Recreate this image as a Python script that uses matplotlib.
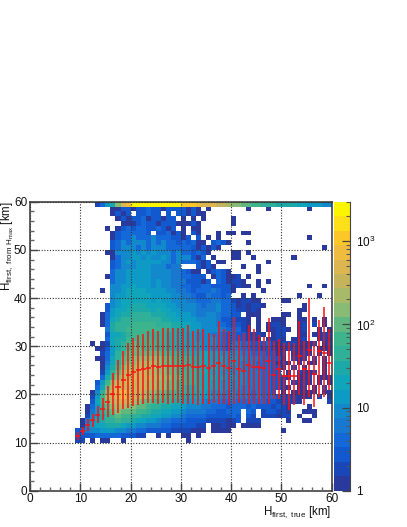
import numpy as np
import matplotlib
matplotlib.use("Agg")
import matplotlib.pyplot as plt
from matplotlib.colors import ListedColormap, LogNorm
from matplotlib.cm import ScalarMappable
from matplotlib.ticker import FixedLocator

plt.rcParams['font.family'] = ['Liberation Sans', 'DejaVu Sans']
plt.rcParams['mathtext.fontset'] = 'custom'
plt.rcParams['mathtext.rm'] = 'Liberation Sans'
plt.rcParams['mathtext.default'] = 'rm'

# Colour-level codes, one row per 1 km bin of the y axis
# (top row first); groups cover x = 5-9, 10-14, ..., 55-59 km.
ROWS = [
"..... ...24 79dgh kkkkk kkkkk iiihg ggffe ddccb baaa9 99988 77766",
"..... ..... .1133 13343 31333 3131. 1.... ...1. ..1.. ..... 1....",
"..... ..... .1313 .3343 3.3.3 31311 ..... ..... ..... ..... .....",
"..... ..... ..131 33413 3133. 1.1.1 ..... 1.... ..... ..... .....",
"..... ..... ...11 13433 13331 1131. ..... 1.... ..... ..... .....",
"..... ..... 1.134 34433 4313. 1.11. ..... ..... ..... ..... .....",
"..... ..... .1344 4443. 33413 1.31. ..1.1 1.11. ..... ..... .....",
"..... ..... .1344 64446 44433 13.3. 1.1.. ..... ..... ..... 1....",
"..... ..... .3464 66646 46443 43411 .3431 ...1. ..... ..... .....",
"..... ..... .3466 64646 66444 44313 131.. ..... ..... ..... ...1.",
"..... ..... 11666 76767 66646 44343 1.... 11.1. ..... ..... .....",
"..... ..... .1466 77676 67646 66314 .1... 11..1 ..... ..1.. .....",
"..... ..... .3467 67777 76646 44431 3.11. ..... ..1.. ..... .....",
"..... ..... .3466 67776 66455 ...31 31... ..1.. 1.... ..... .....",
"..... ..... .4667 77776 66655 4311. 13431 ..... 1.... ..... .....",
"..... ..... 14667 77776 66655 44333 .1431 12.1. ..... ..... .....",
"..... ..... .4667 77776 76655 53331 3.431 221.. 1.1.. ..... .....",
"..... ..... .6677 87776 76655 44334 43333 1211. 1.... ..... 1..1.",
"..... ....1 .6678 88877 77665 54344 45433 1.... .1... ..... .....",
"..... ..... .6778 88887 77766 55433 54434 ..1.1 ..... ...1. ..1..",
"..... ..... .6788 88887 87766 65544 45544 21221 1.... 11... .....",
"..... ..... 36788 99988 88776 66654 55644 31212 21... ....1 .....",
"..... ..... 37889 99998 98877 66655 55644 32212 1.... ...11 .....",
"..... ....1 47899 aaaa9 99887 77655 66544 33.11 1.... 11.1. .....",
"..... ....1 489aa aaaaa a9988 77766 66533 3221. 1..11 1..11 .1.1.",
"..... ....1 49aaa bbbbb aaa99 88776 66543 3321. 1.122 1..12 .2.1.",
"..... ..... 59aab bbbbb baa99 88776 66654 4421. 1.112 21.12 ..1.1",
"..... ..... 3889a bbbaa aa998 87766 65543 43322 21.12 2..11 .1122",
"..... ..... 4899b bbbba aa998 87766 66543 43322 1.212 1.112 ..121",
"..... ..1.1 289ab cbbbb aa998 87776 66543 55443 33421 22211 12.12",
"..... ...11 379ab ccbbb aa998 88776 65543 55443 32321 12211 2.111",
"..... ....2 47abc ccccc cbbaa 99888 87766 66554 44331 2.112 1.1.1",
"..... ...11 48acc ddddd dccbb aa998 87776 76655 54433 1.212 .2.1.",
"..... ....1 58acd deeee dccbb aa998 87776 76555 44431 21.1. 11.1.",
"..... ....1 69bde efeee ddccb aaa98 88776 66555 44433 1.2.1 ...1.",
"..... ....2 7acef fffee ddccb baa99 87766 66655 54433 .1.21 12.1.",
"..... ....4 9bdff gfffe eddcc baa98 88776 76655 54433 21.11 2.112",
"..... ...37 bdffg fffee ddccb baa98 87766 66655 54433 2.212 1.1.1",
"..... ...48 cegff fffee ddccb a9998 87766 66555 54433 21.12 .1.2.",
"..... ..16a dfghg ffedd ccbba a9988 76665 65554 5443. 1.111 11.11",
"..... ..27b efghf feedc cbbaa 98887 76655 65554 54443 22211 1.2.1",
"..... ..38b defff edccb baa99 87776 55544 54444 44332 2221. ....2",
"..... .147a cdeed dccba a9988 76665 54443 44434 33323 21... 1....",
"..... .157a bcdcc cbba9 98877 65555 44334 44.43 .2332 21..1 11...",
"..... .2679 abcbb aa998 87766 54444 33333 43.32 .2221 22.1. .1...",
"..... 15789 aabaa 98877 65544 43333 22221 23.22 2.... .1..1 1....",
"..... 16788 99987 76655 54433 33322 .1121 1.111 1.... ..... .....",
"....3 45667 77665 54433 33322 22111 .1111 ..... ..... 1.... .....",
"....3 33344 44433 322.. 1.1.. 11.1. ..... ..... ..... ..... .....",
"....2 2.1.1 1..1. ..... ..... .1... ..... ..... ..... ..... .....",
]
CODES = "123456789abcdefghijk"
LEVEL_COUNTS = [1.2, 1.8, 2.7, 4.1, 6.1, 9.1, 13.5, 20, 30, 45,
                67, 100, 149, 222, 330, 497, 738, 1100, 1640, 2450]

PROFILE_X = [9.5 + i for i in range(51)]
PROFILE_MEAN = [11.35, 12.45, 13.6, 14.6, 15.8, 16.9, 18.5, 20.05, 21.6, 22.9,
                24, 24.6, 25, 25.3, 25.5, 25.8, 25.65, 25.9, 25.8, 25.9,
                25.85, 25.85, 26.2, 25.65, 25.6, 25.8, 25.4, 25.8, 26.6, 25.85,
                25.4, 27, 25.3, 24.9, 26.1, 25.7, 25.6, 25.4, 27, 24,
                25.2, 23.8, 23.8, 23.8, 28, 25.2, 29.3, 24.2, 29, 28.5, 26.5]
PROFILE_TOP = [12.2, 13.3, 14.8, 16, 17.5, 19.2, 21.7, 24.4, 27.1, 28.9,
               30.7, 31.7, 32.3, 32.6, 33.1, 33.6, 33.2, 33.8, 33.7, 33.8,
               33.8, 33.7, 34.3, 33.2, 33.5, 33.5, 32.8, 32.6, 35.2, 33.6,
               33.1, 36, 32.4, 32.8, 34.3, 33.5, 32.4, 32, 35.9, 31,
               31.4, 30.7, 30.9, 30.7, 35.2, 31, 40.1, 31, 35.5, 38.2, 33.5]
PROFILE_BOT = [10.5, 11.6, 12.4, 13.2, 14, 14.7, 15.3, 15.7, 16.2, 16.9,
               17.2, 17.6, 17.8, 18.1, 18.3, 18.3, 18.1, 18.3, 18.1, 18.3,
               18.3, 18.1, 18.1, 18, 17.8, 18, 18.1, 18.2, 18, 18,
               17.8, 18.1, 18.2, 18.1, 18.1, 18.1, 18.1, 18.1, 18.1, 19,
               19, 17.8, 16.7, 17.8, 19.8, 17.8, 19.5, 17.4, 19.5, 19.5, 21]

X_TICKS = [0, 10, 20, 30, 40, 50, 60]
Y_TICKS = [0, 10, 20, 30, 40, 50, 60]
CB_TICKS = [1, 10, 100, 1000]
CB_LABELS = ["1", "10", "$10^{2}$", "$10^{3}$"]
PALETTE = ["#2a3a9c", "#1a47b8", "#1259d0", "#1468d8", "#1878d0", "#1289cc", "#0d9ac4",
           "#10a5ba", "#1ca9a8", "#30b098", "#3eb48c", "#60b880", "#88bb74", "#a8ba68",
           "#c6b45c", "#dcb650", "#f0bc40", "#fcc828", "#fee018", "#fcf500"]

W, H = 407, 527
fig = plt.figure(figsize=(W / 100, H / 100), dpi=100)
ax = fig.add_axes([30 / W, (H - 490.7) / H, 301.7 / W, 289 / H])

cmap = ListedColormap(PALETTE)
norm = LogNorm(1, 3000)

z = np.full((60, 60), np.nan)
for i, row in enumerate(ROWS):
    s = row.replace(" ", "")
    assert len(s) == 55, (i, len(s))
    for j, c in enumerate(s):
        if c != ".":
            z[59 - i, j + 5] = LEVEL_COUNTS[CODES.index(c)]

edges = np.arange(61)
ax.pcolormesh(edges, edges, z, cmap=cmap, norm=norm, antialiased=False, zorder=1)

mean = np.array(PROFILE_MEAN)
ax.errorbar(PROFILE_X, mean, xerr=0.5,
            yerr=[mean - np.array(PROFILE_BOT), np.array(PROFILE_TOP) - mean],
            fmt="none", ecolor="#ff1010", elinewidth=1.1, capsize=0, zorder=3)

ax.set_xlim(0, 60)
ax.set_ylim(0, 60)
ax.set_xticks(X_TICKS)
ax.set_yticks(Y_TICKS)
ax.xaxis.set_minor_locator(FixedLocator(list(range(0, 61, 2))))
ax.yaxis.set_minor_locator(FixedLocator(list(range(0, 61, 2))))
ax.grid(True, which="major", color="#333333", linestyle=(0, (1, 1.5)), linewidth=0.8, zorder=4)
ax.set_axisbelow(False)
ax.tick_params(which="major", direction="in", length=6, width=1.0, color="#444444",
               labelsize=8.5, pad=2, labelcolor="#111111")
ax.tick_params(which="minor", direction="in", length=3, width=1.0, color="#666666")
for s in ax.spines.values():
    s.set_linewidth(1.1)
    s.set_color("#333333")

fig.text(331 / W, (H - 512.5) / H, r"H$_{\mathrm{first,\ true}}$ [km]", ha="right", va="center",
         fontsize=8.3, color="#111111")
fig.text(7.5 / W, (H - 201) / H, r"H$_{\mathrm{first,\ from\ H_{max}}}$ [km]", ha="center", va="top",
         rotation=90, fontsize=8.3, color="#111111")

cax = fig.add_axes([333.5 / W, (H - 490.7) / H, 16.5 / W, 289 / H])
cb = fig.colorbar(ScalarMappable(norm=norm, cmap=cmap), cax=cax)
cb.outline.set_visible(False)
cax.spines["right"].set_visible(True)
cax.spines["right"].set_color("#444444")
cb.set_ticks(CB_TICKS)
cb.set_ticklabels(CB_LABELS)
cax.tick_params(which="major", direction="in", length=6, width=0.9, color="#444444",
                labelsize=8.5, pad=4, right=True, labelcolor="#111111")
cax.tick_params(which="minor", direction="in", length=3, width=0.8, color="#555555", right=True)

fig.savefig("out.png", dpi=100)
